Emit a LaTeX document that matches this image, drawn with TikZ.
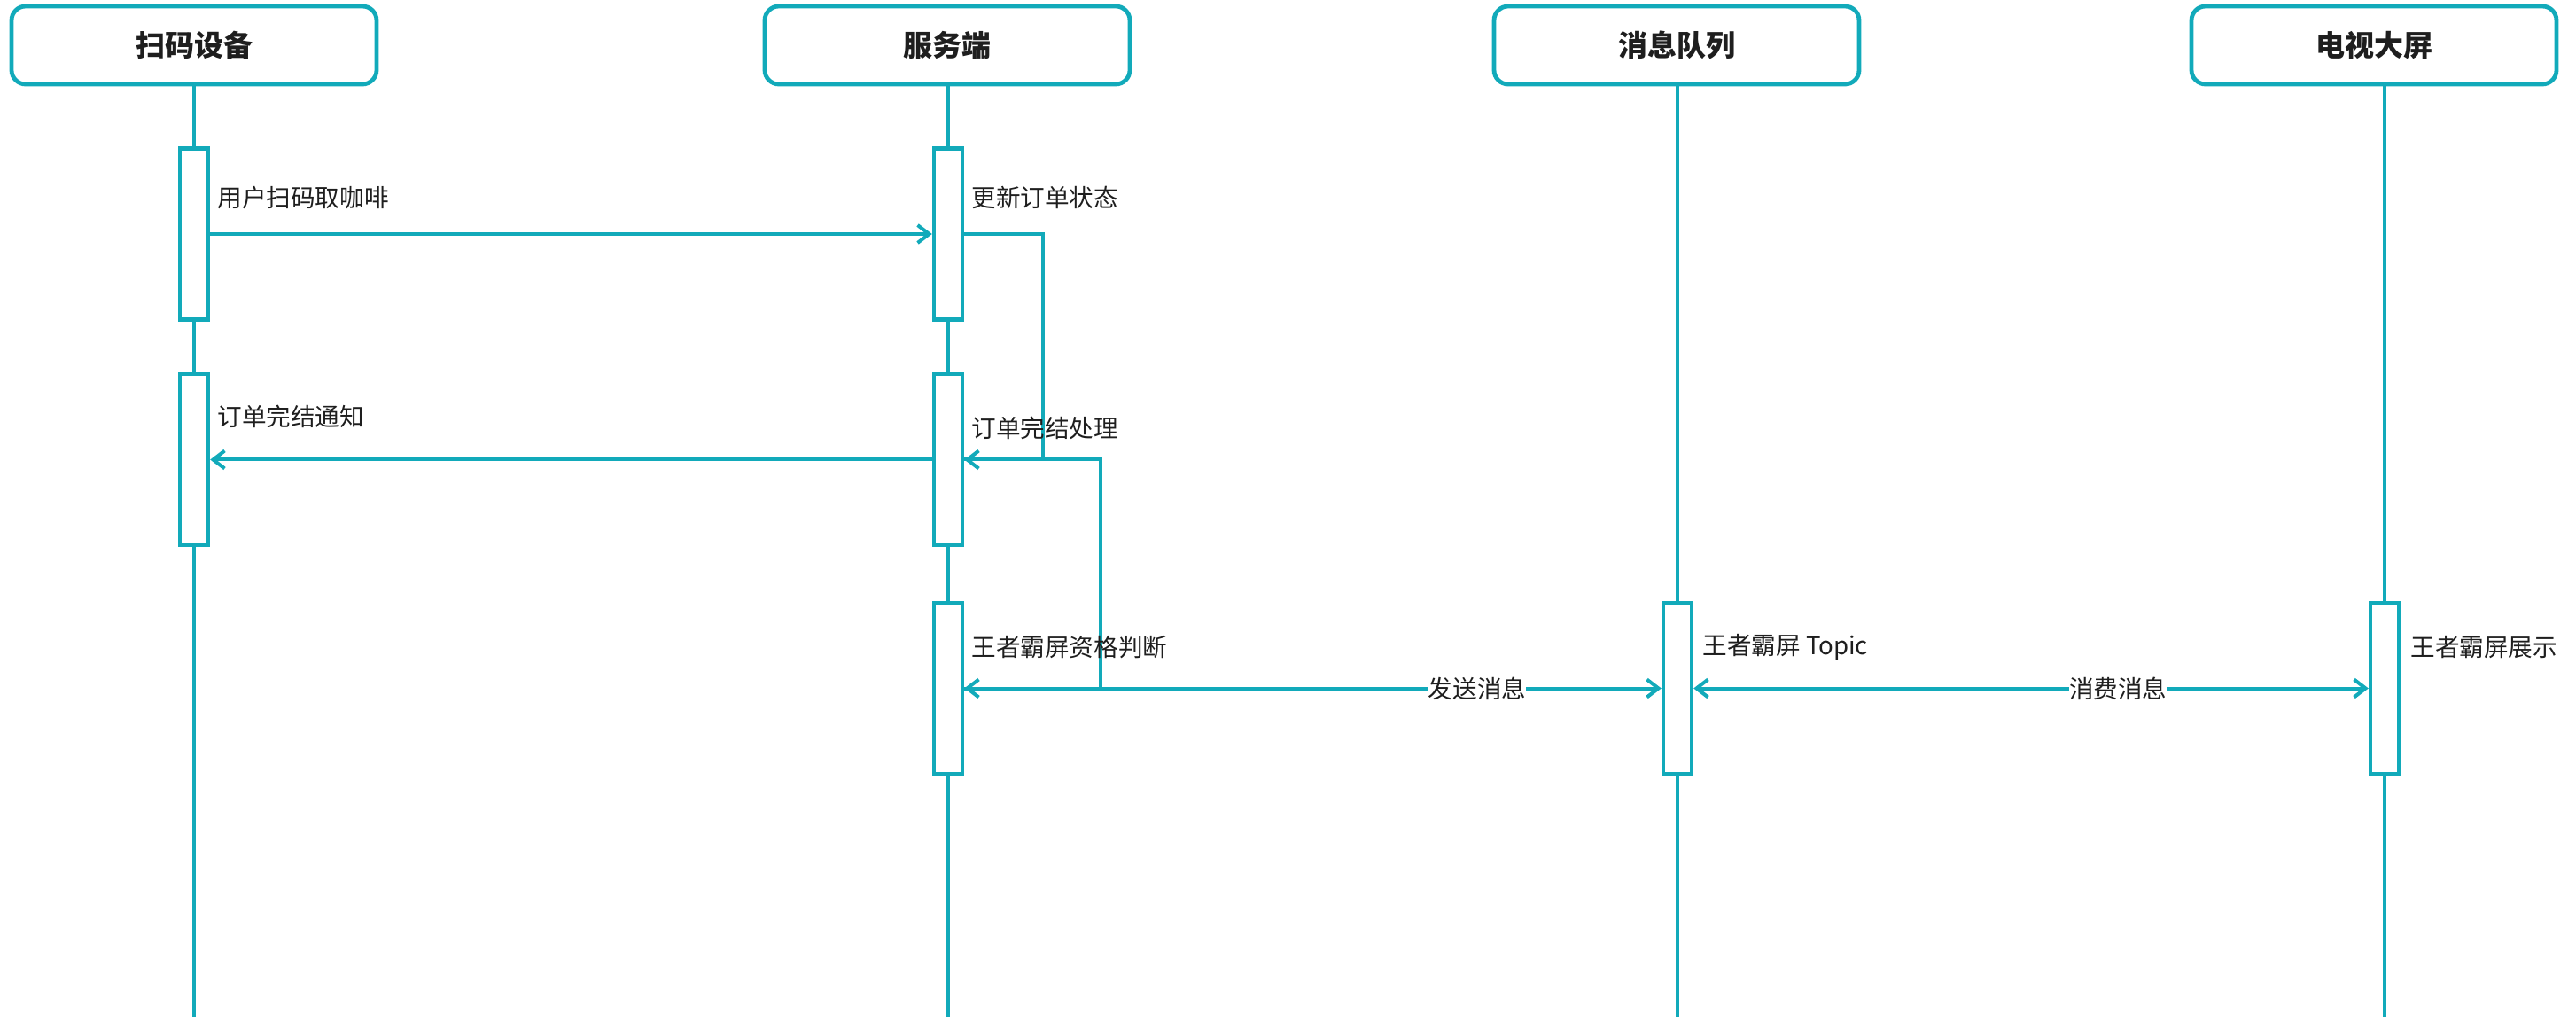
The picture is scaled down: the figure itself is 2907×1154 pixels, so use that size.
\documentclass[tikz,border=0pt]{standalone}
\usepackage{fontspec}
\setmainfont{Noto Sans CJK SC}
\usetikzlibrary{arrows.meta}
\definecolor{seqteal}{RGB}{18,170,186}
\definecolor{seqtext}{RGB}{30,30,30}
\begin{document}
\begin{tikzpicture}[x=0.5pt, y=-0.5pt]
    \tikzset{
        head/.style = {draw = seqteal, line width = 2.4pt, rounded corners = 8pt,
            minimum width = 206pt, minimum height = 44pt, text = seqtext,
            font = \bfseries\fontsize{16.5}{19}\selectfont},
        life/.style = {draw = seqteal, line width = 1.6pt},
        act/.style = {draw = seqteal, fill = white, line width = 2.2pt,
            minimum width = 16pt, minimum height = 96.5pt, inner sep = 0pt},
        tip/.style = {Straight Barb[length = 6.5pt, width = 10pt]},
        msg/.style = {draw = seqteal, line width = 2pt, -{Straight Barb[length = 6.5pt, width = 10pt]}},
        lbl/.style = {text = seqtext, anchor = west, inner sep = 0pt,
            font = \fontsize{13.8}{16}\selectfont},
        midlbl/.style = {lbl, anchor = center, fill = white}
    }
    \useasboundingbox (0, 0) rectangle (2907, 1154);

    % lifelines
    \foreach \nm/\x/\hx/\txt in {dev/219/219/扫码设备, srv/1070/1069/服务端,
            mq/1893/1892/消息队列, tv/2691/2679/电视大屏}{
        \node[head] (\nm) at (\hx, 51) {\txt};
        \draw[life] (\nm.south -| \x, 0) -- (\x, 1147);
    }

    % activations
    \node[act] (dev1) at (219, 264) {};
    \node[act] (dev2) at (219, 518.5) {};
    \node[act] (srv1) at (1070, 264) {};
    \node[act] (srv2) at (1070, 518.5) {};
    \node[act] (srv3) at (1070, 776.5) {};
    \node[act] (mq1) at (1893, 776.5) {};
    \node[act] (tv1) at (2691, 776.5) {};

    % messages
    \draw[msg] (dev1.east) -- (srv1.west);
    \draw[msg] (srv1.east) -- ++(89, 0) |- (srv2.east);
    \draw[msg] (srv2.west) -- (dev2.east);
    \draw[msg] (srv2.east) -- ++(154, 0) |- (srv3.east);
    \draw[msg] (srv3.east) -- node[midlbl, pos = 0.736] {发送消息} (mq1.west);
    \draw[msg, {Straight Barb[length = 6.5pt, width = 10pt]}-{Straight Barb[length = 6.5pt, width = 10pt]}]
        (mq1.east) -- node[midlbl, pos = 0.629] {消费消息} (tv1.west);

    % labels
    \node[lbl] (l1) at (245, 223) {用户扫码取咖啡};
    \node[lbl] (l2) at (1096, 223) {更新订单状态};
    \node[lbl] (l3) at (245, 470) {订单完结通知};
    \node[lbl] (l4) at (1096, 483) {订单完结处理};
    \node[lbl] (l5) at (1096, 730) {王者霸屏资格判断};
    \node[lbl] (l6) at (1921, 730) {王者霸屏 Topic};
    \node[lbl] (l7) at (2720, 730) {王者霸屏展示};
\end{tikzpicture}
\end{document}
